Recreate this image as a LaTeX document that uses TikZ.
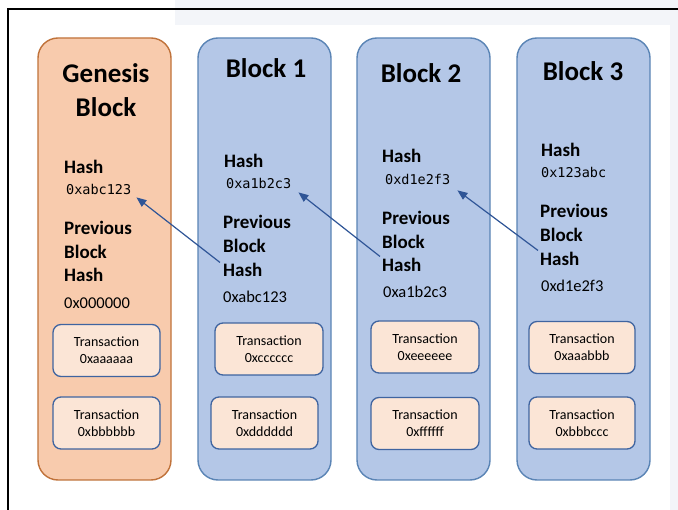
\documentclass[tikz,border=0pt]{standalone}
\usepackage{fontspec}
\setmainfont{Carlito}
\newfontfamily\hexmono{DejaVu Sans Mono}
\usetikzlibrary{arrows.meta}
\definecolor{orfill}{HTML}{F8CBAD}
\definecolor{ordraw}{HTML}{C0723A}
\definecolor{blfill}{HTML}{B4C7E7}
\definecolor{bldraw}{HTML}{5A84B5}
\definecolor{txfill}{HTML}{FBE5D6}
\definecolor{txdraw}{HTML}{3F64A0}
\definecolor{arr}{HTML}{2F5597}
\definecolor{wm}{HTML}{F3F5F9}
\begin{document}
\begin{tikzpicture}[x=1pt,y=-1pt,
  blockbox/.style={draw, line width=1.4pt, rounded corners=20pt, minimum width=133pt, minimum height=442pt, inner sep=0pt},
  txbox/.style={draw=txdraw, fill=txfill, line width=1.3pt, rounded corners=8pt, minimum width=107pt, minimum height=52pt, align=center, font=\fontsize{14}{17}\selectfont, inner sep=0pt},
  title/.style={font=\fontsize{27}{34}\selectfont\bfseries, anchor=base, inner sep=0pt},
  lbl/.style={font=\fontsize{19}{23}\selectfont\bfseries, anchor=base west, inner sep=0pt},
  hexv/.style={font=\fontsize{13.5}{15}\selectfont\hexmono, anchor=base west, inner sep=0pt},
  pval/.style={font=\fontsize{16.5}{20}\selectfont, anchor=base west, inner sep=0pt},
  link/.style={draw=arr, line width=1.2pt, -{Triangle[length=10pt,width=8pt]}}
]
\useasboundingbox (0,0) rectangle (678,510);
\fill[white] (0,0) rectangle (678,510);
\fill[wm] (175,0) rectangle (678,25);
\fill[wm] (670,0) rectangle (678,510);
\draw[line width=2pt] (8,510) -- (8,9) -- (678,9);

% blocks
\node[blockbox, draw=ordraw, fill=orfill] (g) at (104.5,259) {};
\node[blockbox, draw=bldraw, fill=blfill] (b1) at (264.5,259) {};
\node[blockbox, draw=bldraw, fill=blfill] (b2) at (423.5,259) {};
\node[blockbox, draw=bldraw, fill=blfill] (b3) at (583.5,259) {};

% titles
\node[title] (gt1) at (106,83) {Genesis};
\node[title] (gt2) at (106,117) {Block};
\node[title] (b1t) at (266,78) {Block 1};
\node[title] (b2t) at (421,83) {Block 2};
\node[title] (b3t) at (583,81) {Block 3};

% genesis
\node[lbl] (gh) at (64,174) {Hash};
\node[hexv] (gv) at (66,195) {0xabc123};
\node[lbl] (gp1) at (64,235) {Previous};
\node[lbl] (gp2) at (64,259) {Block};
\node[lbl] (gp3) at (64,282) {Hash};
\node[pval] (gpv) at (64,309) {0x000000};

% block 1
\node[lbl] (b1h) at (224,168) {Hash};
\node[hexv] (b1v) at (226,189) {0xa1b2c3};
\node[lbl] (b1p1) at (223,229) {Previous};
\node[lbl] (b1p2) at (223,253) {Block};
\node[lbl] (b1p3) at (223,277) {Hash};
\node[pval] (b1pv) at (223,303) {0xabc123};

% block 2
\node[lbl] (b2h) at (382,163) {Hash};
\node[hexv] (b2v) at (385,185) {0xd1e2f3};
\node[lbl] (b2p1) at (382,225) {Previous};
\node[lbl] (b2p2) at (382,249) {Block};
\node[lbl] (b2p3) at (382,272) {Hash};
\node[pval] (b2pv) at (383,298) {0xa1b2c3};

% block 3
\node[lbl] (b3h) at (541,157) {Hash};
\node[hexv] (b3v) at (541,178) {0x123abc};
\node[lbl] (b3p1) at (540,218) {Previous};
\node[lbl] (b3p2) at (540,242) {Block};
\node[lbl] (b3p3) at (540,266) {Hash};
\node[pval] (b3pv) at (541,292) {0xd1e2f3};

% transactions
\node[txbox] (gx1) at (106.5,350.5) {Transaction\\0xaaaaaa};
\node[txbox] (gx2) at (106.5,423) {Transaction\\0xbbbbbb};
\node[txbox, minimum width=108pt] (b1x1) at (269,349) {Transaction\\0xcccccc};
\node[txbox] (b1x2) at (264.5,423) {Transaction\\0xdddddd};
\node[txbox, minimum width=108pt] (b2x1) at (425,347) {Transaction\\0xeeeeee};
\node[txbox, minimum width=108pt] (b2x2) at (425,423.5) {Transaction\\0xffffff};
\node[txbox, minimum width=106pt] (b3x1) at (582,347.5) {Transaction\\0xaaabbb};
\node[txbox, minimum width=106pt] (b3x2) at (582,423) {Transaction\\0xbbbccc};

% links
\draw[link] ([xshift=-3pt,yshift=1pt]b1p3.north west) -- ([xshift=5pt,yshift=-2pt]gv.south east);
\draw[link] ([xshift=-2pt,yshift=2pt]b2p3.north west) -- ([xshift=7pt,yshift=-3pt]b1v.south east);
\draw[link] ([xshift=-2pt,yshift=2pt]b3p3.north west) -- ([xshift=7pt,yshift=-5pt]b2v.south east);
\end{tikzpicture}
\end{document}
